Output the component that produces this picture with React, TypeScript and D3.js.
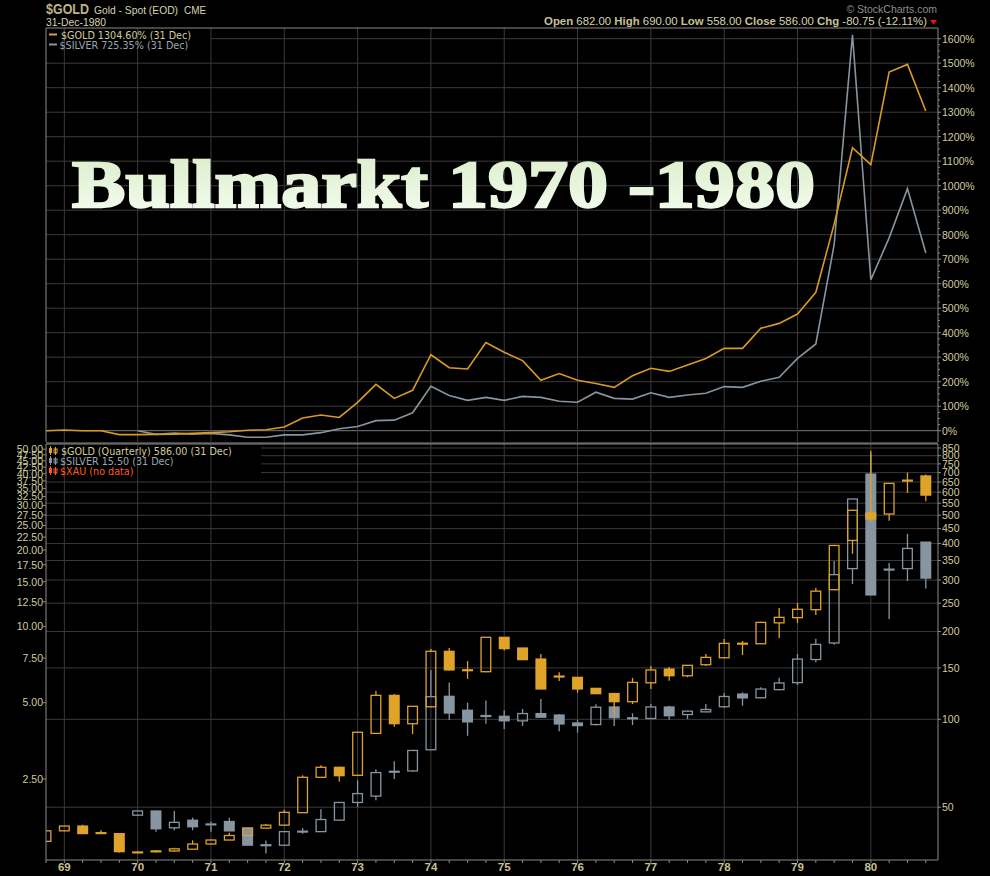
import React, { useEffect } from "react";
import * as d3 from "d3";

// ---------- data ----------
const quarterLabels: string[] = d3.range(49).map((i) => {
  const y = 1968 + Math.floor((i + 3) / 4);
  const q = ((i + 3) % 4) + 1;
  return `${q}Q${y}`;
});

const goldOpen = [38.2, 41.5, 43.1, 40.8, 40.6, 35.1, 35.5, 35.4, 35.9, 37.4, 38.6, 40.0, 42.4, 43.4, 47.9, 63.3, 68.5, 64.3, 89.5, 120.8, 96.6, 110.4, 171.0, 147.4, 145.6, 191.0, 175.5, 160.9, 140.3, 139.3, 127.7, 122.6, 114.9, 133.4, 148.7, 141.0, 153.8, 162.5, 181.7, 181.5, 214.0, 223.0, 237.5, 278.0, 410.0, 508.9, 505.0, 657.5, 682.0];
const goldHigh = [41.6, 43.2, 43.5, 41.7, 40.7, 35.2, 35.7, 36.3, 38.5, 38.7, 40.9, 42.5, 43.8, 49.0, 64.3, 69.6, 68.8, 90.5, 125.0, 122.0, 110.9, 174.0, 175.5, 158.3, 191.5, 191.5, 176.0, 167.3, 144.9, 139.5, 128.0, 123.0, 138.6, 152.3, 151.0, 153.5, 167.4, 188.3, 185.5, 216.0, 240.5, 250.3, 281.6, 396.0, 521.0, 831.0, 643.0, 700.0, 690.0];
const goldLow = [38.1, 41.4, 40.5, 40.6, 35.0, 34.8, 35.0, 35.1, 35.8, 37.3, 38.5, 39.9, 42.3, 43.2, 47.8, 63.1, 61.2, 64.0, 89.3, 94.3, 89.0, 110.0, 147.0, 137.5, 145.0, 172.0, 160.0, 127.0, 135.3, 123.4, 122.4, 102.6, 112.8, 127.0, 135.6, 139.3, 152.3, 162.0, 166.0, 181.0, 189.8, 213.9, 227.5, 277.0, 369.0, 476.0, 479.0, 597.0, 558.0];
const goldClose = [41.5, 43.1, 40.6, 40.7, 35.2, 34.9, 35.1, 36.0, 37.4, 38.6, 40.0, 42.4, 43.4, 48.0, 63.3, 68.5, 64.1, 90.3, 120.8, 96.6, 110.8, 171.0, 147.6, 147.2, 191.0, 174.6, 160.1, 127.0, 140.0, 127.0, 122.4, 114.9, 133.8, 147.6, 141.0, 153.1, 163.0, 182.0, 181.5, 214.8, 223.5, 238.2, 274.8, 394.0, 520.0, 485.3, 643.0, 657.0, 586.0];

const N = null;
const silverOpen = [N, N, N, N, N, 1.80, 1.87, 1.605, 1.72, 1.64, 1.70, 1.60, 1.37, 1.37, 1.55, 1.55, 1.72, 2.02, 2.14, 2.67, 2.69, 3.26, 5.30, 4.67, 4.43, 4.42, 4.24, 4.53, 4.47, 4.16, 4.10, 4.81, 4.34, 4.33, 4.81, 4.49, 4.60, 4.82, 5.41, 5.23, 5.63, 6.00, 7.40, 8.60, 16.9, 39.9, 16.75, 16.9, 21.5];
const silverHigh = [N, N, N, N, N, 1.88, 1.88, 1.87, 1.76, 1.70, 1.76, 1.60, 1.43, 1.55, 1.60, 1.90, 2.02, 2.47, 2.73, 2.94, 3.24, 6.73, 6.00, 5.00, 5.10, 4.67, 4.72, 5.17, 4.51, 4.27, 4.93, 4.85, 4.54, 4.94, 4.86, 4.65, 4.94, 5.46, 5.49, 5.75, 6.27, 7.78, 8.93, 18.1, 31.8, 48.0, 17.8, 23.2, 21.5];
const silverLow = [N, N, N, N, N, 1.79, 1.55, 1.57, 1.57, 1.55, 1.56, 1.37, 1.27, 1.37, 1.52, 1.55, 1.72, 1.94, 2.06, 2.50, 2.67, 3.25, 4.27, 3.70, 4.13, 3.94, 4.05, 4.37, 3.86, 3.81, 4.06, 4.05, 4.08, 4.33, 4.28, 4.31, 4.58, 4.78, 4.86, 5.20, 5.60, 5.87, 7.22, 8.46, 14.7, 13.3, 10.7, 15.1, 14.1];
const silverClose = [N, N, N, N, N, 1.87, 1.59, 1.686, 1.62, 1.67, 1.56, 1.37, 1.37, 1.55, 1.55, 1.73, 2.02, 2.19, 2.65, 2.67, 3.24, 5.28, 4.55, 4.20, 4.43, 4.24, 4.53, 4.38, 4.12, 4.06, 4.80, 4.36, 4.34, 4.81, 4.44, 4.63, 4.70, 5.29, 5.22, 5.66, 5.98, 7.43, 8.49, 16.0, 31.8, 13.3, 16.75, 20.3, 15.5];

const goldPct = [0, 3, 0, 0, -16, -16, -15, -14, -11, -8, -4, 2, 4, 15, 52, 64, 54, 116, 189, 132, 165, 310, 257, 252, 360, 320, 286, 206, 233, 206, 193, 177, 224, 255, 242, 268, 295, 336, 336, 418, 438, 476, 565, 843, 1155, 1086, 1464, 1495, 1304.6];
const silverPct = [N, N, N, N, N, 0, -15, -10, -14, -11, -17, -27, -27, -17, -17, -8, 8, 17, 41, 43, 73, 181, 144, 124, 136, 124, 140, 136, 120, 116, 157, 132, 129, 155, 136, 146, 153, 180, 177, 202, 218, 295, 354, 759, 1616, 616, 787, 988, 725.35];

const pctTicks = d3.range(0, 1700, 100);
const goldTicks = [50, 100, 150, 200, 250, 300, 350, 400, 450, 500, 550, 600, 650, 700, 750, 800, 850];
const silverTicks = [2.5, 5, 7.5, 10, 12.5, 15, 17.5, 20, 22.5, 25, 27.5, 30, 32.5, 35, 37.5, 40, 42.5, 45, 47.5, 50];
const yearLabels = ["69", "70", "71", "72", "73", "74", "75", "76", "77", "78", "79", "80"];

// ---------- style ----------
const GOLD = "#dea328";
const GOLD_LINE = "#d99a22";
const SILVER = "#8795a0";
const GRID = "#3a3a3a";
const FRAME = "#8a8a8a";
const TAN = "#cfcc9e";
const L = 46, R = 938, TT = 28, TB = 442, BT = 444, BB = 860;

const x = d3.scalePoint<string>().domain(quarterLabels).range([46, 925.8]);
const yPct = d3.scaleLinear().domain([0, 1600]).range([430.7, 38.7]);
const yGold = d3.scaleLog().domain([50, 850]).range([807.2, 448.0]);
const ySilver = d3.scaleLog().domain([2.5, 50]).range([779.0, 449.2]);

function Candles({ o, h, l, c, y, color }: any) {
  const hw = 5.5;
  const out: any[] = [];
  o.forEach((ov: number | null, i: number) => {
    if (ov == null) return;
    const cx = x(quarterLabels[i])!;
    const yo = y(ov), yc = y(c[i]), yh = y(h[i]), yl = y(l[i]);
    const top = Math.min(yo, yc), bot = Math.max(yo, yc);
    const up = c[i] >= ov;
    if (yh < top - 0.3) out.push(<line key={"h" + i} x1={cx} x2={cx} y1={yh} y2={top} stroke={color} strokeWidth={1.3} />);
    if (yl > bot + 0.3) out.push(<line key={"l" + i} x1={cx} x2={cx} y1={bot} y2={yl} stroke={color} strokeWidth={1.3} />);
    if (bot - top < 2) {
      out.push(<line key={"d" + i} x1={cx - hw} x2={cx + hw} y1={(top + bot) / 2} y2={(top + bot) / 2} stroke={color} strokeWidth={2.2} />);
    } else if (up) {
      out.push(<rect key={"b" + i} x={cx - hw + 0.65} y={top} width={hw * 2 - 1.3} height={bot - top} fill="none" stroke={color} strokeWidth={1.3} />);
    } else {
      out.push(<rect key={"b" + i} x={cx - hw} y={top - 0.6} width={hw * 2} height={bot - top + 1.2} fill={color} />);
    }
  });
  return <g>{out}</g>;
}

function CandleIcon({ x0, y0, color }: any) {
  return (
    <g>
      <line x1={x0 + 1.5} x2={x0 + 1.5} y1={y0 - 1} y2={y0 + 8} stroke={color} strokeWidth={1} />
      <rect x={x0} y={y0 + 1} width={3} height={5} fill={color} />
      <line x1={x0 + 6.5} x2={x0 + 6.5} y1={y0} y2={y0 + 8} stroke={color} strokeWidth={1} />
      <rect x={x0 + 5} y={y0 + 2} width={3} height={4} fill="none" stroke={color} strokeWidth={1} />
    </g>
  );
}

export default function App() {
  useEffect(() => {
    document.body.style.margin = "0";
    document.body.style.background = "#000";
  }, []);

  const lineGen = d3
    .line<number | null>()
    .defined((d) => d != null)
    .x((_, i) => x(quarterLabels[i])!)
    .y((d) => yPct(d as number));

  const yearXs = yearLabels.map((_, k) => x(quarterLabels[1 + 4 * k])!);
  const sans = "'Liberation Sans', Arial, sans-serif";
  const dj = "'DejaVu Sans', sans-serif";

  return (
    <svg width={990} height={876} style={{ position: "absolute", left: 0, top: 0, background: "#000" }} fontFamily={sans}>
      <defs>
        <clipPath id="cTop"><rect x={L} y={TT} width={R - L} height={TB - TT} /></clipPath>
        <clipPath id="cBot"><rect x={L} y={BT} width={R - L} height={BB - BT} /></clipPath>
        <linearGradient id="tg" x1="0" x2="0" y1="0" y2="1">
          <stop offset="0" stopColor="#d9ecc6" />
          <stop offset="1" stopColor="#f6fdf2" />
        </linearGradient>
      </defs>
      <rect x={0} y={0} width={990} height={876} fill="#000" />

      {/* header */}
      <text x={46} y={14} fontSize={14} fontWeight="bold" fill="#bdb384" textLength={43} lengthAdjust="spacingAndGlyphs">$GOLD</text>
      <text x={94} y={14} fontSize={11.5} fill="#d6d4ae" textLength={84} lengthAdjust="spacingAndGlyphs">Gold - Spot (EOD)</text>
      <text x={184} y={14} fontSize={10} fill="#d6d4ae" textLength={22} lengthAdjust="spacingAndGlyphs">CME</text>
      <text x={46} y={25.5} fontSize={10.5} fill="#d6d4b4" textLength={60} lengthAdjust="spacingAndGlyphs">31-Dec-1980</text>
      <text x={937} y={12.5} fontSize={10.5} fill="#8e8e8e" textAnchor="end">© StockCharts.com</text>
      <text x={927} y={25} fontSize={11.4} fill="#d6d4ae" textAnchor="end">
        <tspan fontWeight="bold" fill="#c7c197">Open</tspan> 682.00{"  "}
        <tspan fontWeight="bold" fill="#c7c197">High</tspan> 690.00{"  "}
        <tspan fontWeight="bold" fill="#c7c197">Low</tspan> 558.00{"  "}
        <tspan fontWeight="bold" fill="#c7c197">Close</tspan> 586.00{"  "}
        <tspan fontWeight="bold" fill="#c7c197">Chg</tspan> -80.75 (-12.11%)
      </text>
      <path d="M930,20 L937,20 L933.5,24.5 Z" fill="#ee1111" />

      {/* ---------- top panel ---------- */}
      {pctTicks.map((t) => (
        <line key={"pg" + t} x1={L} x2={R} y1={yPct(t)} y2={yPct(t)} stroke={t === 0 ? "#7a7a7a" : GRID} strokeWidth={1} />
      ))}
      <rect x={47} y={36} width={164} height={6} fill="#000" />
      {yearXs.map((xx, k) => (
        <line key={"vt" + k} x1={xx} x2={xx} y1={TT} y2={TB} stroke={GRID} strokeWidth={1} />
      ))}

      <text x={72} y={207} fontFamily="'Liberation Serif', 'DejaVu Serif', serif" fontWeight="bold" fontSize={68}
        textLength={743} lengthAdjust="spacingAndGlyphs" fill="url(#tg)" stroke="url(#tg)" strokeWidth={2.4}>
        Bullmarkt 1970 -1980
      </text>

      <g clipPath="url(#cTop)">
        <path d={lineGen(silverPct) || ""} fill="none" stroke={SILVER} strokeWidth={1.6} />
        <path d={lineGen(goldPct) || ""} fill="none" stroke={GOLD_LINE} strokeWidth={1.6} />
      </g>

      {/* top legend */}
      <line x1={49} x2={57} y1={34.5} y2={34.5} stroke={GOLD} strokeWidth={2} />
      <text x={61} y={38.5} fontFamily={dj} fontSize={9.6} fill="#d4cc9c">$GOLD 1304.60% (31 Dec)</text>
      <line x1={49} x2={57} y1={44.5} y2={44.5} stroke={SILVER} strokeWidth={2} />
      <text x={59.5} y={48.5} fontFamily={dj} fontSize={9.6} fill="#9ba7b6">$SILVER 725.35% (31 Dec)</text>

      {/* top frame + axis */}
      <line x1={L} x2={R} y1={TT} y2={TT} stroke={FRAME} />
      <line x1={L} x2={L} y1={TT} y2={TB} stroke={FRAME} />
      <line x1={R} x2={R} y1={TT} y2={TB} stroke={FRAME} />
      <line x1={L} x2={R} y1={443} y2={443} stroke={FRAME} />
      {d3.range(0, 1625, 25).map((t) => (
        <line key={"mt" + t} x1={R} x2={R + (t % 100 === 0 ? 3 : 2)} y1={yPct(t)} y2={yPct(t)} stroke={FRAME} />
      ))}
      {pctTicks.map((t) => (
        <text key={"pl" + t} x={942} y={yPct(t) + 3.8} fontSize={10.5} fill={TAN}>{t}%</text>
      ))}

      {/* ---------- bottom panel ---------- */}
      {goldTicks.map((t) => (
        <line key={"gg" + t} x1={L} x2={R} y1={yGold(t)} y2={yGold(t)} stroke={GRID} strokeWidth={1} />
      ))}
      <rect x={47} y={445} width={214} height={32} fill="#000" />
      {yearXs.map((xx, k) => (
        <line key={"vb" + k} x1={xx} x2={xx} y1={BT} y2={BB} stroke={GRID} strokeWidth={1} />
      ))}

      <g clipPath="url(#cBot)">
        <Candles o={silverOpen} h={silverHigh} l={silverLow} c={silverClose} y={ySilver} color={SILVER} />
        <Candles o={goldOpen} h={goldHigh} l={goldLow} c={goldClose} y={yGold} color={GOLD} />
      </g>

      {/* bottom legend */}
      <CandleIcon x0={49} y0={447} color={GOLD} />
      <text x={61} y={455} fontFamily={dj} fontSize={9.6} fill="#d4cc9c">$GOLD (Quarterly) 586.00 (31 Dec)</text>
      <CandleIcon x0={49} y0={457} color={SILVER} />
      <text x={60} y={465} fontFamily={dj} fontSize={9.6} fill="#9ba7b6">$SILVER 15.50 (31 Dec)</text>
      <CandleIcon x0={49} y0={467} color="#ff5a1e" />
      <text x={60} y={475} fontFamily={dj} fontSize={9.6} fill="#ff5a1e">$XAU (no data)</text>

      {/* bottom frame + axes */}
      <line x1={L} x2={R} y1={BT} y2={BT} stroke={FRAME} />
      <line x1={L} x2={L} y1={BT} y2={BB} stroke={FRAME} />
      <line x1={R} x2={R} y1={BT} y2={BB} stroke={FRAME} />
      <line x1={L} x2={R} y1={BB} y2={BB} stroke={FRAME} />
      {goldTicks.map((t) => (
        <g key={"gl" + t}>
          <line x1={R} x2={R + 3} y1={yGold(t)} y2={yGold(t)} stroke={FRAME} />
          <text x={942} y={yGold(t) + 3.8} fontSize={10.5} fill={TAN}>{t}</text>
        </g>
      ))}
      {silverTicks.map((t) => (
        <g key={"sl" + t}>
          <line x1={L - 3} x2={L} y1={ySilver(t)} y2={ySilver(t)} stroke={FRAME} />
          <text x={43} y={ySilver(t) + 3.8} fontSize={10.5} fill={TAN} textAnchor="end">{t.toFixed(2)}</text>
        </g>
      ))}
      {quarterLabels.map((q) => (
        <line key={"qt" + q} x1={x(q)!} x2={x(q)!} y1={BB} y2={BB + 3} stroke={FRAME} />
      ))}
      {yearLabels.map((yl, k) => (
        <text key={"yl" + yl} x={yearXs[k]} y={871} fontSize={11.5} fontWeight="bold" fill="#c8c290" textAnchor="middle">{yl}</text>
      ))}
    </svg>
  );
}
